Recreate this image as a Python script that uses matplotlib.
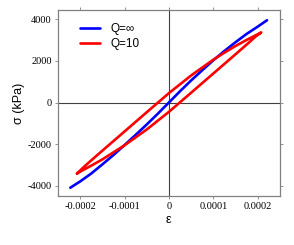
import matplotlib
matplotlib.use("Agg")
import matplotlib.pyplot as plt
import numpy as np

# Q = infinity backbone (strain in units of 1e-4, stress kPa)
blue_eps = [-2.22, -2.0, -1.75, -1.5, -1.25, -1.0, -0.75, -0.5, -0.25, 0.0,
            0.25, 0.5, 0.75, 1.0, 1.25, 1.5, 1.75, 2.0, 2.21]
blue_sig = [-4100, -3800, -3420, -2980, -2530, -2050, -1560, -1060, -540, 0,
            540, 1060, 1550, 2030, 2480, 2900, 3300, 3650, 3960]

# Q = 10 loop: upper branch (left tip -> right tip)
red_up_eps = [-2.07, -1.95, -1.8, -1.5, -1.0, -0.5, 0.0, 0.5, 1.0, 1.25, 1.5, 1.75, 1.95, 2.08]
red_up_sig = [-3420, -3170, -2880, -2320, -1395, -470, 450, 1300, 2060, 2400, 2720, 3010, 3230, 3370]
# lower branch (right tip -> left tip)
red_lo_eps = [2.08, 1.95, 1.8, 1.5, 1.0, 0.5, 0.0, -0.5, -1.0, -1.25, -1.5, -1.75, -1.95, -2.07]
red_lo_sig = [3370, 3170, 2880, 2320, 1395, 470, -450, -1300, -2060, -2400, -2740, -3040, -3270, -3420]

xticks = [-0.0002, -0.0001, 0, 0.0001, 0.0002]
xticklabels = ["-0.0002", "-0.0001", "0", "0.0001", "0.0002"]
yticks = [-4000, -2000, 0, 2000, 4000]
yticklabels = ["-4000", "-2000", "0", "2000", "4000"]

fig = plt.figure(figsize=(2.94, 2.45), dpi=100)
ax = fig.add_axes([0.197, 0.2, 0.755, 0.759])

ax.axhline(0, color="#404040", lw=0.8, zorder=1)
ax.axvline(0, color="#404040", lw=0.8, zorder=1)

scale = 1e-4
ax.plot(np.array(blue_eps) * scale, blue_sig, color="#0000ff", lw=1.9,
        label="Q=\u221e", zorder=3, solid_capstyle="round")
red_eps = np.array(red_up_eps + red_lo_eps[1:]) * scale
red_sig = red_up_sig + red_lo_sig[1:]
ax.plot(red_eps, red_sig, color="#ff0000", lw=1.9, label="Q=10", zorder=4,
        solid_capstyle="round", solid_joinstyle="round")

ax.set_xlim(-0.00025, 0.00025)
ax.set_ylim(-4500, 4450)
ax.set_xticks(xticks)
ax.set_xticklabels(xticklabels, family="Liberation Serif", fontsize=7.5)
ax.set_yticks(yticks)
ax.set_yticklabels(yticklabels, family="Liberation Serif", fontsize=7.5)
ax.tick_params(direction="out", length=2.5, width=0.6, color="#808080",
               top=True, right=True, labeltop=False, labelright=False, pad=2)

for s in ax.spines.values():
    s.set_color("#808080")
    s.set_linewidth(0.9)

ax.set_xlabel("\u03b5", fontsize=9, labelpad=2, family=["Liberation Sans", "DejaVu Sans"])
ax.set_ylabel("\u03c3 (kPa)", fontsize=9, labelpad=2, family=["Liberation Sans", "DejaVu Sans"])

leg = ax.legend(loc="upper left", frameon=False,
                prop={"family": ["Liberation Sans", "DejaVu Sans"], "size": 8.5},
                handlelength=1.7, handletextpad=0.9, labelspacing=0.3,
                borderaxespad=0.3, bbox_to_anchor=(0.06, 0.975))

fig.savefig("out.png", dpi=100)
